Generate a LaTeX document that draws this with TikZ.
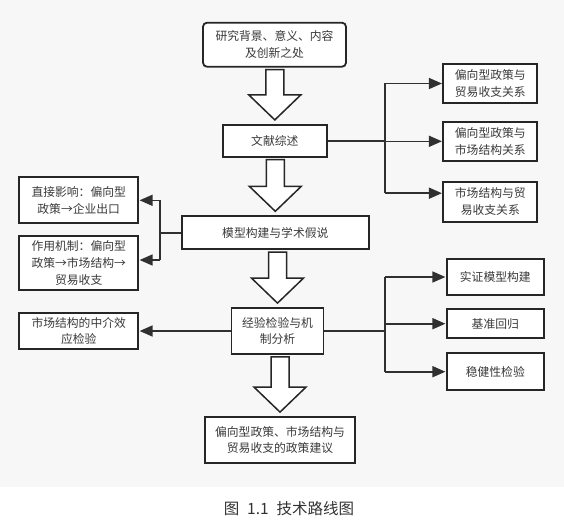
\documentclass[tikz,border=0pt]{standalone}
\usepackage{fontspec}
\newfontfamily\cjkfont{Noto Sans CJK SC}
\usetikzlibrary{calc,arrows.meta}
\definecolor{bgc}{HTML}{F7F7F7}
\definecolor{boxc}{HTML}{262626}
\definecolor{linec}{HTML}{303030}
\definecolor{txtc}{HTML}{3A3A3A}
\tikzset{
  box/.style={draw=boxc, line width=1.8pt, fill=white, align=center, inner sep=0pt,
    text=txtc, font=\cjkfont\fontsize{11.8}{16.7}\selectfont},
  conn/.style={draw=linec, line width=1.6pt},
  arr/.style={conn, -{Triangle[length=13pt,width=11pt]}, shorten >=0.5pt},
  blockarr/.style={draw=boxc, line width=1.5pt, fill=white, line join=miter},
}
\newcommand\blockarrow[2]{%
  \draw[blockarr] ($(#1.south -| #2.north)+(-9,2)$) -- ($(#2.north)+(-9,-29)$)
    -- ($(#2.north)+(-26,-29)$) -- ($(#2.north)+(0,-4)$) -- ($(#2.north)+(26,-29)$)
    -- ($(#2.north)+(9,-29)$) -- ($(#1.south -| #2.north)+(9,2)$) -- cycle;}
\begin{document}
\begin{tikzpicture}[x=1pt,y=-1pt]
\useasboundingbox (0,0) rectangle (564,524);
\fill[white] (0,0) rectangle (564,524);
\fill[bgc] (0,0) rectangle (564,487);

% main column
\node[box, rounded corners=4pt, minimum width=143, minimum height=44] (top) at (274.5,44.7) {研究背景、意义、内容\\及创新之处};
\node[box, minimum width=104, minimum height=32] (wx) at (274.8,140.8) {文献综述};
\node[box, minimum width=187, minimum height=33] (mx) at (275.3,232.7) {模型构建与学术假说};
\node[box, minimum width=92, minimum height=46] (jy) at (277.5,331) {经验检验与机\\制分析};
\node[box, minimum width=150, minimum height=46] (fin) at (280,440) {偏向型政策、市场结构与\\贸易收支的政策建议};

% right top
\node[box, minimum width=94, minimum height=38.5] (R1) at (490.3,83.5) {偏向型政策与\\贸易收支关系};
\node[box, minimum width=94, minimum height=39] (R2) at (490.3,141.3) {偏向型政策与\\市场结构关系};
\node[box, minimum width=94, minimum height=40] (R3) at (490.3,201.7) {市场结构与贸\\易收支关系};

% left
\node[box, minimum width=119, minimum height=46] (L1) at (78.7,200.3) {直接影响：偏向型\\政策→企业出口};
\node[box, minimum width=119, minimum height=54] (L2) at (78.7,263) {作用机制：偏向型\\政策→市场结构→\\贸易收支};
\node[box, minimum width=119, minimum height=36] (L3) at (78.7,331) {市场结构的中介效\\应检验};

% right bottom
\node[box, minimum width=97, minimum height=36] (B1) at (495.3,277) {实证模型构建};
\node[box, minimum width=97, minimum height=29] (B2) at (495.3,323.7) {基准回归};
\node[box, minimum width=97, minimum height=37] (B3) at (495.3,371.7) {稳健性检验};

% caption
\node[font=\cjkfont\fontsize{15.5}{18}\selectfont, text=black!80, inner sep=0pt] (cap) at (289,509) {图\hspace{0.5em}1.1\hspace{0.5em}技术路线图};

% block arrows
\blockarrow{top}{wx}
\blockarrow{wx}{mx}
\blockarrow{mx}{jy}
\blockarrow{jy}{fin}

% right top connectors
\coordinate (jR) at (385,141);
\coordinate (r3in) at ($(R3.west)+(0,-8.5)$);
\draw[conn] (wx.east) -- (wx.east -| jR);
\draw[conn] (jR |- R1.west) -- (jR |- r3in);
\draw[arr] (jR |- R1.west) -- (R1.west);
\draw[arr] (jR |- R2.west) -- (R2.west);
\draw[arr] (jR |- r3in) -- (r3in);

% left connectors
\coordinate (jL) at (160,232);
\coordinate (l2in) at ($(L2.east)+(0,-3)$);
\draw[conn] (mx.west) -- (mx.west -| jL);
\draw[conn] (jL |- L1.east) -- (jL |- l2in);
\draw[arr] (jL |- L1.east) -- (L1.east);
\draw[arr] (jL |- l2in) -- (l2in);
\draw[arr] (jy.west) -- (L3.east);

% right bottom connectors
\coordinate (jB) at (385,331);
\draw[conn] (jy.east) -- (jy.east -| jB);
\draw[conn] (jB |- B1.west) -- (jB |- B3.west);
\draw[arr] (jB |- B1.west) -- (B1.west);
\draw[arr] (jB |- B2.west) -- (B2.west);
\draw[arr] (jB |- B3.west) -- (B3.west);
\end{tikzpicture}
\end{document}
